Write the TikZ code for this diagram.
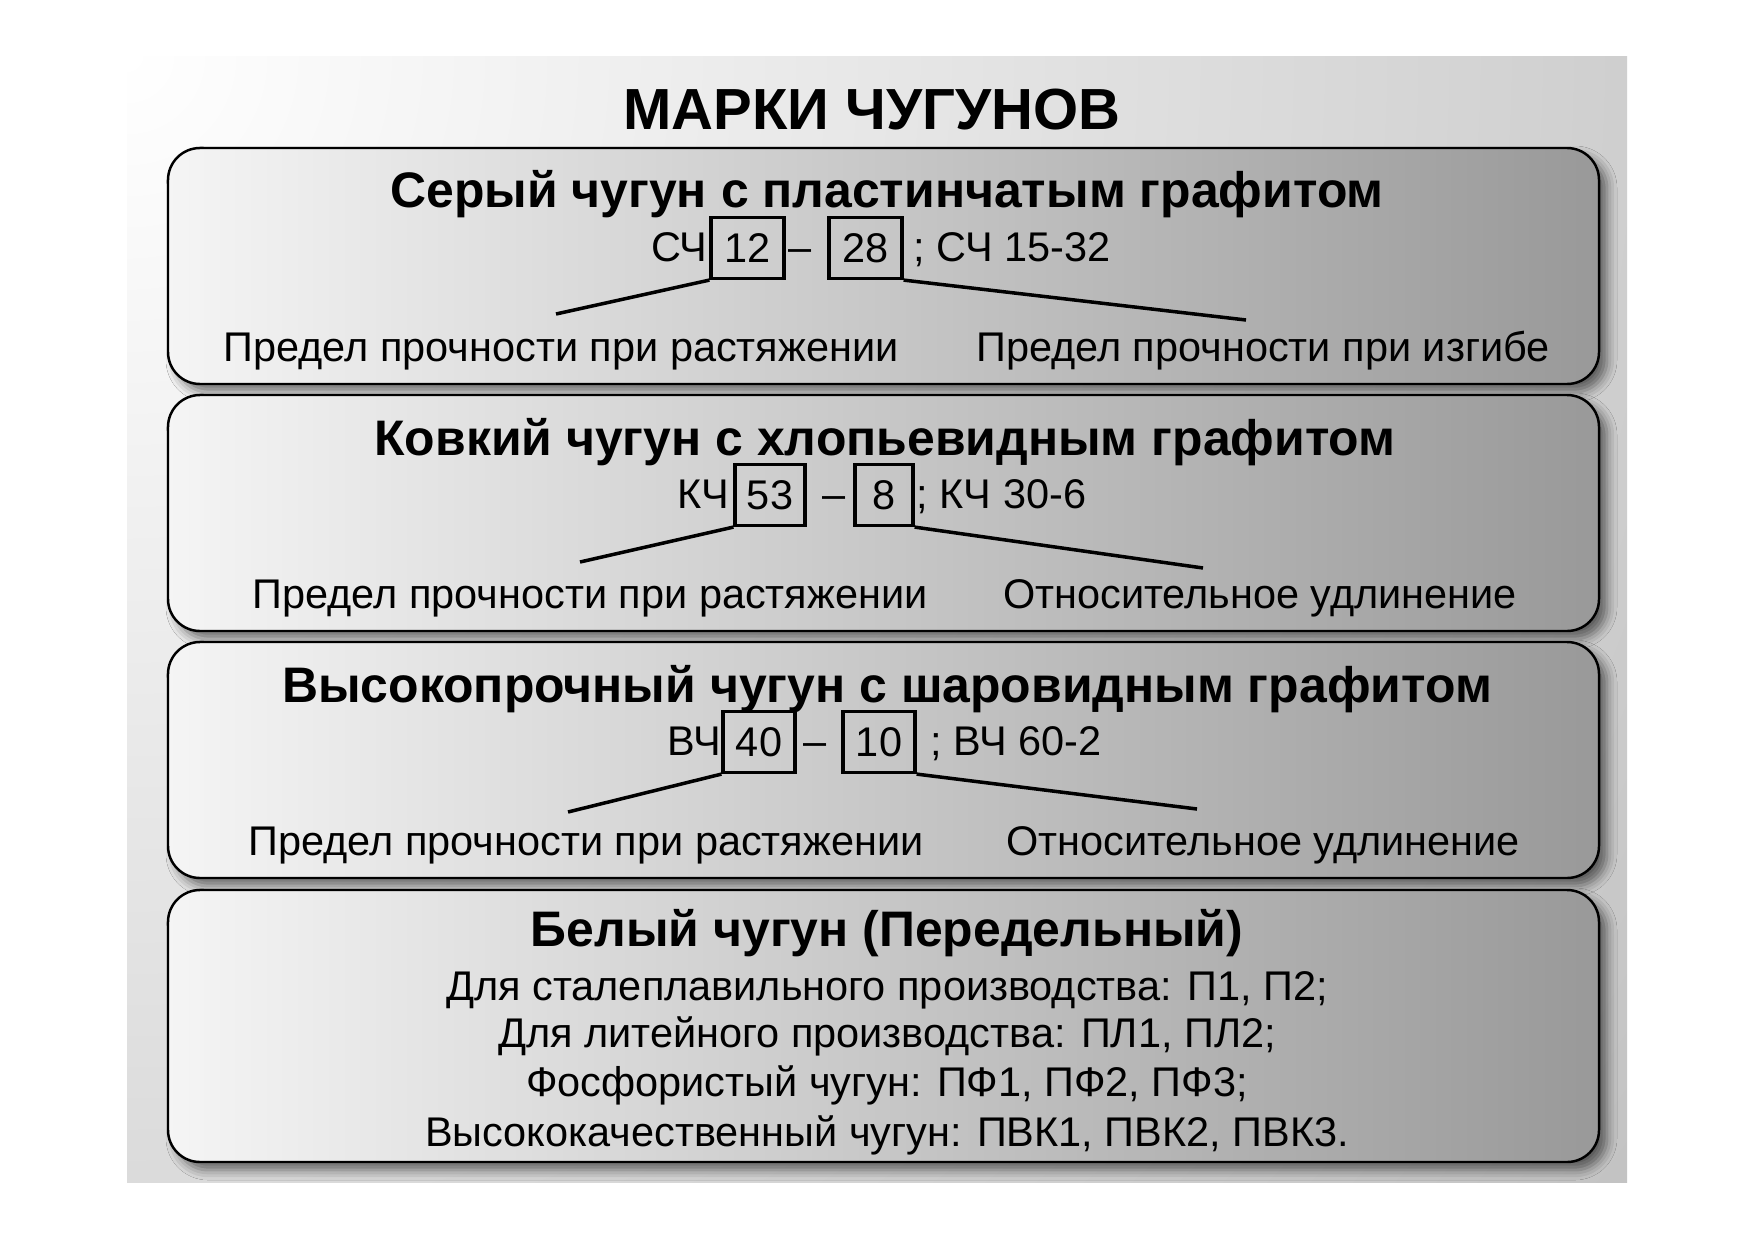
\documentclass[tikz,border=0pt]{standalone}
\usepackage{fontspec}
\setmainfont{Liberation Sans}
\usetikzlibrary{shadows.blur}
\definecolor{bgdark}{gray}{0.71}
\definecolor{panelL}{gray}{0.96}
\definecolor{panelR}{gray}{0.60}
\tikzset{
  panel/.style={draw, line width=0.7pt, rounded corners=3.2mm, left color=panelL, right color=panelR,
    minimum width=143.1mm, minimum height=23.6mm,
    blur shadow={shadow xshift=0.8mm, shadow yshift=-0.8mm, shadow blur radius=1mm, shadow opacity=55}},
  bigtitle/.style={font=\fontsize{16.5pt}{19pt}\selectfont\bfseries, anchor=base, inner sep=0pt},
  heading/.style={font=\fontsize{14.2pt}{17pt}\selectfont\bfseries, anchor=base, inner sep=0pt},
  txt/.style={font=\fontsize{11.8pt}{14pt}\selectfont, anchor=base, inner sep=0pt},
  numbox/.style={draw, line width=0.9pt, minimum width=7.3mm, minimum height=6.1mm, inner sep=0pt,
    font=\fontsize{11.8pt}{14pt}\selectfont},
  link/.style={line width=1pt}
}
\begin{document}
\begin{tikzpicture}[x=0.1mm,y=-0.1mm]
\useasboundingbox (0,0) rectangle (1754,1240);
\fill[white] (0,0) rectangle (1754,1240);
\begin{scope}
\clip (127,56) rectangle (1627,1182);
\shade[inner color=white, outer color=bgdark] (127,56) circle (2300);
\end{scope}

\node[bigtitle] (title) at (872,129) {МАРКИ ЧУГУНОВ};

\node[panel] (gray) at (883.5,266) {};
\node[panel] (malle) at (883.5,513) {};
\node[panel] (ductile) at (883.5,760) {};
\node[panel, minimum height=27.2mm] (white) at (883.5,1026) {};

\node[heading] (grayT) at (887,207) {Серый чугун с пластинчатым графитом};
\node[txt, anchor=base east] (grayS) at (708,261) {СЧ};
\node[numbox] (g12) at (747.5,248) {12};
\node[txt] (gdash) at (800,261) {–};
\node[numbox] (g28) at (865.5,248) {28};
\node[txt, anchor=base west] (gtail) at (913,261) {; СЧ 15-32};
\coordinate (gL) at (556,314);
\coordinate (gR) at (1246,320);
\draw[link] (g12.south west) -- (gL);
\draw[link] (g28.south east) -- (gR);
\node[txt] (glabL) at (561,361) {Предел прочности при растяжении};
\node[txt] (glabR) at (1263,361) {Предел прочности при изгибе};

\node[heading] (malleT) at (885,455) {Ковкий чугун с хлопьевидным графитом};
\node[txt, anchor=base east] (malleS) at (730,508) {КЧ};
\node[numbox, minimum width=7mm] (k53) at (770,495) {53};
\node[txt] (kdash) at (834,508) {–};
\node[numbox, minimum width=5.8mm] (k8) at (884,495) {8};
\node[txt, anchor=base west] (ktail) at (916,508) {; КЧ 30-6};
\coordinate (kL) at (580,562);
\coordinate (kR) at (1203,568);
\draw[link] (k53.south west) -- (kL);
\draw[link] (k8.south east) -- (kR);
\node[txt] (klabL) at (590,608) {Предел прочности при растяжении};
\node[txt] (klabR) at (1260,608) {Относительное удлинение};

\node[heading] (ductileT) at (887,702) {Высокопрочный чугун с шаровидным графитом};
\node[txt, anchor=base east] (ductileS) at (722,755) {ВЧ};
\node[numbox, minimum width=7.2mm] (v40) at (759,742) {40};
\node[txt] (vdash) at (815,755) {–};
\node[numbox, minimum width=7.2mm] (v10) at (879,742) {10};
\node[txt, anchor=base west] (vtail) at (930,755) {; ВЧ 60-2};
\coordinate (vL) at (568,812);
\coordinate (vR) at (1197,809);
\draw[link] (v40.south west) -- (vL);
\draw[link] (v10.south east) -- (vR);
\node[txt] (vlabL) at (586,855) {Предел прочности при растяжении};
\node[txt] (vlabR) at (1263,855) {Относительное удлинение};

\node[heading] (whiteT) at (887,946) {Белый чугун (Передельный)};
\node[txt] (w1) at (887,1000) {Для сталеплавильного производства: П1, П2;};
\node[txt] (w2) at (887,1047) {Для литейного производства: ПЛ1, ПЛ2;};
\node[txt] (w3) at (887,1096) {Фосфористый чугун: ПФ1, ПФ2, ПФ3;};
\node[txt] (w4) at (887,1146) {Высококачественный чугун: ПВК1, ПВК2, ПВК3.};
\end{tikzpicture}
\end{document}
